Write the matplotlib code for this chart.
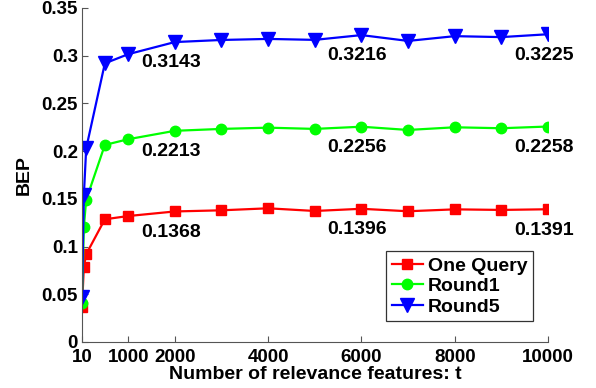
import matplotlib
matplotlib.use("Agg")
import matplotlib.pyplot as plt

x = [10, 50, 100, 500, 1000, 2000, 3000, 4000, 5000, 6000, 7000, 8000, 9000, 10000]
one_query = [0.037, 0.079, 0.092, 0.1286, 0.132, 0.1368, 0.138, 0.1401, 0.1373, 0.1396, 0.137, 0.139, 0.1384, 0.1391]
round1 = [0.041, 0.121, 0.149, 0.2065, 0.2125, 0.2213, 0.2233, 0.2246, 0.2233, 0.2256, 0.2222, 0.225, 0.224, 0.2258]
round5 = [0.0475, 0.154, 0.203, 0.292, 0.3016, 0.3143, 0.3165, 0.3176, 0.3166, 0.3216, 0.3155, 0.3205, 0.3195, 0.3225]
series_names = ["One Query", "Round1", "Round5"]
annot_idx = [5, 9, 13]
xticks = [10, 1000, 2000, 4000, 6000, 8000, 10000]
yticks = [0, 0.05, 0.1, 0.15, 0.2, 0.25, 0.3, 0.35]
ytick_labels = ["0", "0.05", "0.1", "0.15", "0.2", "0.25", "0.3", "0.35"]

plt.rcParams['font.family'] = ['Liberation Sans', 'DejaVu Sans']
plt.rcParams['font.weight'] = 'bold'

fig = plt.figure(figsize=(5.96, 3.88), dpi=100)
ax = fig.add_axes([82/596, 46/388, 466/596, 334/388])

styles = [dict(color='#ff0000', marker='s', ms=6.5),
          dict(color='#00ff00', marker='o', ms=7.5),
          dict(color='#0000ff', marker='v', ms=10)]
for ys, name, st in zip([one_query, round1, round5], series_names, styles):
    ax.plot(x, ys, color=st['color'], marker=st['marker'], ms=st['ms'], lw=1.6,
            mfc=st['color'], mec=st['color'], label=name)
    for i in annot_idx:
        ax.annotate(f"{ys[i]:.4f}", (x[i], ys[i]), xytext=(-3, -15), textcoords='offset points',
                    ha='center', va='center', fontsize=14, fontweight='bold')

ax.set_xlim(10, 10000)
ax.set_ylim(0, 0.35)
ax.set_xticks(xticks)
ax.set_xticklabels([str(t) for t in xticks])
ax.set_yticks(yticks)
ax.set_yticklabels(ytick_labels)
for s in ['top', 'right']:
    ax.spines[s].set_visible(False)
for s in ['left', 'bottom']:
    ax.spines[s].set_color('#555555')
    ax.spines[s].set_linewidth(0.8)
ax.tick_params(axis='both', direction='in', length=4, color='#555555', labelsize=13.5, width=0.8)
ax.tick_params(axis='x', pad=5)
ax.tick_params(axis='y', pad=3)
for lab in ax.get_xticklabels() + ax.get_yticklabels():
    lab.set_fontweight('bold')

ax.set_xlabel("Number of relevance features: t", fontsize=14, fontweight='bold', labelpad=0)
ax.set_ylabel("BEP", fontsize=14, fontweight='bold', labelpad=6)

leg = ax.legend(loc='upper right', bbox_to_anchor=(0.968, 0.272), borderaxespad=0,
                fontsize=14, frameon=True, fancybox=False, handlelength=1.6,
                handletextpad=0.25, labelspacing=0.15, borderpad=0.3)
leg.get_frame().set_edgecolor('black')
leg.get_frame().set_linewidth(0.9)
for t in leg.get_texts():
    t.set_fontweight('bold')

fig.savefig("out.png", dpi=100)
